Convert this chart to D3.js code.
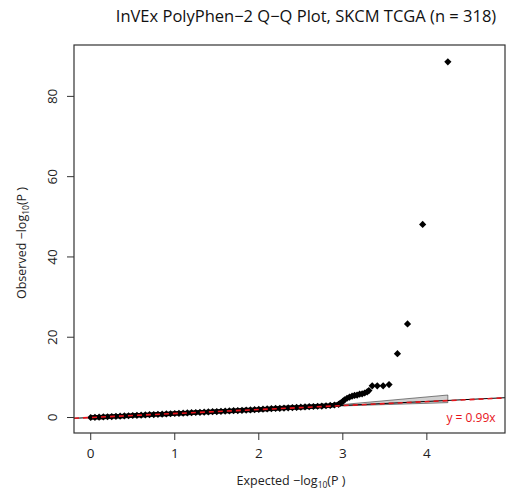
<!DOCTYPE html>
<html>
<head>
  <meta charset="utf-8">
  <title>InVEx PolyPhen-2 Q-Q Plot</title>
  <script src="https://d3js.org/d3.v7.min.js"></script>
  <style>
    body { margin: 0; background: #fff; }
    svg { display: block; font-family: "Open Sans", "Noto Sans", sans-serif; }
  </style>
</head>
<body>
<div id="chart"></div>
<script>
  // expected / observed -log10(P)
  var expected = [0.00, 0.05, 0.10, 0.15, 0.20, 0.25, 0.30, 0.35, 0.40, 0.45,
    0.50, 0.55, 0.60, 0.65, 0.70, 0.75, 0.80, 0.85, 0.90, 0.95,
    1.00, 1.05, 1.10, 1.15, 1.20, 1.25, 1.30, 1.35, 1.40, 1.45,
    1.50, 1.55, 1.60, 1.65, 1.70, 1.75, 1.80, 1.85, 1.90, 1.95,
    2.00, 2.05, 2.10, 2.15, 2.20, 2.25, 2.30, 2.35, 2.40, 2.45,
    2.50, 2.55, 2.60, 2.65, 2.70, 2.75, 2.80, 2.85, 2.90, 2.95,
    2.97, 3.00, 3.02, 3.05, 3.08, 3.11, 3.14, 3.17, 3.20, 3.23,
    3.26, 3.29, 3.31, 3.35, 3.41, 3.48, 3.55, 3.65, 3.77, 3.95, 4.25];
  var observed = [0.00, 0.04, 0.09, 0.14, 0.19, 0.24, 0.30, 0.34, 0.39, 0.44,
    0.50, 0.54, 0.59, 0.64, 0.70, 0.74, 0.80, 0.84, 0.89, 0.94,
    1.00, 1.04, 1.09, 1.14, 1.19, 1.25, 1.29, 1.34, 1.39, 1.44,
    1.49, 1.54, 1.59, 1.64, 1.69, 1.74, 1.79, 1.85, 1.90, 1.95,
    2.01, 2.07, 2.13, 2.19, 2.25, 2.30, 2.36, 2.41, 2.47, 2.52,
    2.58, 2.63, 2.69, 2.74, 2.80, 2.86, 2.93, 3.01, 3.12, 3.28,
    3.60, 4.00, 4.40, 4.80, 5.10, 5.30, 5.50, 5.60, 5.80, 5.90,
    6.10, 6.40, 6.70, 7.90, 7.90, 7.90, 8.20, 15.9, 23.3, 48.1, 88.6];

  // confidence band
  var bandX = [2.0, 2.9, 4.25];
  var bandLo = [1.98, 2.82, 3.7];
  var bandHi = [2.02, 3.05, 5.6];

  var slope = 0.99;
  var xTicks = [0, 1, 2, 3, 4];
  var yTicks = [0, 20, 40, 60, 80];

  var W = 506, H = 494;
  var pL = 74, pR = 505, pT = 45, pB = 433;

  var x = d3.scaleLinear().domain([-0.199, 4.93]).range([pL, pR]);
  var y = d3.scaleLinear().domain([-3.86, 92.8]).range([pB, pT]);

  var svg = d3.select("#chart").append("svg")
    .attr("width", W).attr("height", H);

  svg.append("defs").append("clipPath").attr("id", "clip")
    .append("rect").attr("x", pL).attr("y", pT)
    .attr("width", pR - pL).attr("height", pB - pT);

  var g = svg.append("g").attr("clip-path", "url(#clip)");

  // band
  var bandPts = bandX.map(function(d, i) { return [x(d), y(bandHi[i])]; })
    .concat(bandX.slice().reverse().map(function(d, i) {
      return [x(d), y(bandLo[bandX.length - 1 - i])];
    }));
  g.append("path")
    .attr("d", d3.line()(bandPts) + "Z")
    .attr("fill", "#d0d0d0")
    .attr("stroke", "#333")
    .attr("stroke-width", 0.6);

  // y = x
  var xd = x.domain();
  g.append("line")
    .attr("x1", x(xd[0])).attr("y1", y(xd[0]))
    .attr("x2", x(xd[1])).attr("y2", y(xd[1]))
    .attr("stroke", "#000").attr("stroke-width", 1);

  // points (the dense run gets a connecting stroke so it reads as one band)
  g.append("path")
    .datum(expected.slice(0, 61))
    .attr("d", d3.line()
      .x(function(d) { return x(d); })
      .y(function(d, i) { return y(observed[i]); }))
    .attr("fill", "none").attr("stroke", "#000").attr("stroke-width", 4.5);

  var diamond = d3.symbol().type(d3.symbolSquare).size(26);
  g.selectAll("path.pt")
    .data(expected)
    .enter().append("path")
    .attr("class", "pt")
    .attr("d", diamond)
    .attr("transform", function(d, i) {
      return "translate(" + x(d) + "," + y(observed[i]) + ") rotate(45)";
    })
    .attr("fill", "#000");

  // fitted line
  g.append("line")
    .attr("x1", x(xd[0])).attr("y1", y(slope * xd[0]))
    .attr("x2", x(xd[1])).attr("y2", y(slope * xd[1]))
    .attr("stroke", "#e8141b").attr("stroke-width", 1.6)
    .attr("stroke-dasharray", "5,4");

  g.append("text")
    .attr("x", 471).attr("y", 422)
    .attr("text-anchor", "middle")
    .attr("fill", "#e8141b")
    .attr("font-size", 12)
    .text("y = " + slope + "x");

  // box
  svg.append("rect")
    .attr("x", pL).attr("y", pT)
    .attr("width", pR - pL).attr("height", pB - pT)
    .attr("fill", "none").attr("stroke", "#333").attr("stroke-width", 1.2);

  // x axis
  var xAxis = svg.append("g");
  xAxis.selectAll("line").data(xTicks).enter().append("line")
    .attr("x1", function(d) { return x(d); }).attr("x2", function(d) { return x(d); })
    .attr("y1", pB).attr("y2", pB + 7)
    .attr("stroke", "#333");
  xAxis.selectAll("text").data(xTicks).enter().append("text")
    .attr("x", function(d) { return x(d); }).attr("y", 458)
    .attr("text-anchor", "middle").attr("font-size", 13.5).attr("fill", "#222")
    .text(function(d) { return d; });

  // y axis
  var yAxis = svg.append("g");
  yAxis.selectAll("line").data(yTicks).enter().append("line")
    .attr("x1", pL - 7).attr("x2", pL)
    .attr("y1", function(d) { return y(d); }).attr("y2", function(d) { return y(d); })
    .attr("stroke", "#333");
  yAxis.selectAll("text").data(yTicks).enter().append("text")
    .attr("transform", function(d) { return "translate(57," + y(d) + ") rotate(-90)"; })
    .attr("text-anchor", "middle").attr("font-size", 13.5).attr("fill", "#222")
    .text(function(d) { return d; });

  // axis titles
  var xl = svg.append("text")
    .attr("x", 291).attr("y", 485)
    .attr("text-anchor", "middle").attr("font-size", 12.5).attr("fill", "#222");
  xl.append("tspan").text("Expected \u2212log");
  xl.append("tspan").attr("font-size", 8.5).attr("dy", 3).text("10");
  xl.append("tspan").attr("dy", -3).text("(P )");

  var yl = svg.append("text")
    .attr("transform", "translate(26,243) rotate(-90)")
    .attr("text-anchor", "middle").attr("font-size", 12.5).attr("fill", "#222");
  yl.append("tspan").text("Observed \u2212log");
  yl.append("tspan").attr("font-size", 8.5).attr("dy", 3).text("10");
  yl.append("tspan").attr("dy", -3).text("(P )");

  // title
  svg.append("text")
    .attr("x", 306).attr("y", 22)
    .attr("text-anchor", "middle").attr("font-size", 16.5).attr("fill", "#111")
    .text("InVEx PolyPhen\u22122 Q\u2212Q Plot, SKCM TCGA (n = 318)");
</script>
</body>
</html>
